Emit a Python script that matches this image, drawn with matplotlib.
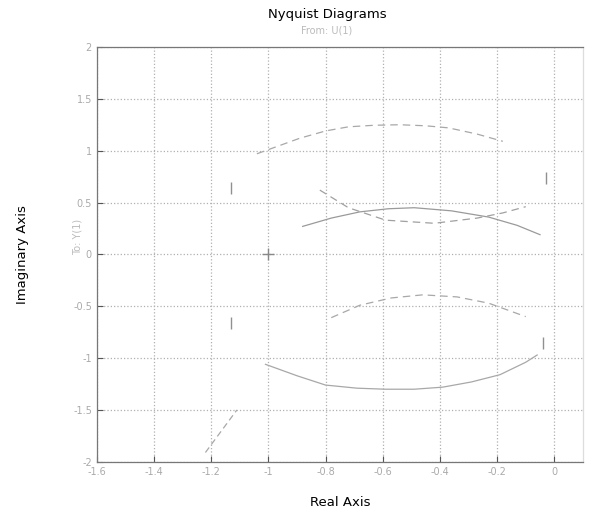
import matplotlib
matplotlib.use("Agg")
import matplotlib.pyplot as plt

# values
x_ticks = [-1.6, -1.4, -1.2, -1.0, -0.8, -0.6, -0.4, -0.2, 0.0]
x_tick_labels = ["-1.6", "-1.4", "-1.2", "-1", "-0.8", "-0.6", "-0.4", "-0.2", "0"]
y_ticks = [-2, -1.5, -1, -0.5, 0, 0.5, 1, 1.5, 2]
y_tick_labels = ["-2", "-1.5", "-1", "-0.5", "0", "0.5", "1", "1.5", "2"]

upper_arc_re = [-1.04, -0.95, -0.89, -0.80, -0.72, -0.63, -0.54, -0.45, -0.37, -0.27, -0.18]
upper_arc_im = [0.97, 1.06, 1.12, 1.19, 1.23, 1.245, 1.25, 1.24, 1.22, 1.16, 1.09]

mid_arc_re = [-0.88, -0.78, -0.68, -0.58, -0.49, -0.36, -0.23, -0.13, -0.05]
mid_arc_im = [0.27, 0.35, 0.41, 0.44, 0.45, 0.42, 0.36, 0.28, 0.19]

mid_dash_re = [-0.82, -0.72, -0.59, -0.42, -0.27, -0.18, -0.10]
mid_dash_im = [0.62, 0.45, 0.33, 0.30, 0.35, 0.40, 0.46]

low_top_re = [-0.78, -0.68, -0.57, -0.46, -0.34, -0.23, -0.10]
low_top_im = [-0.61, -0.49, -0.42, -0.39, -0.41, -0.47, -0.60]

low_bot_re = [-1.01, -0.90, -0.80, -0.69, -0.59, -0.49, -0.39, -0.29, -0.19, -0.10, -0.06]
low_bot_im = [-1.06, -1.17, -1.26, -1.29, -1.30, -1.30, -1.28, -1.23, -1.16, -1.04, -0.97]

tail_re = [-1.22, -1.11]
tail_im = [-1.91, -1.50]

arrow_re = [-1.13, -0.03, -0.04, -1.13]
arrow_im = [0.64, 0.74, -0.85, -0.66]

fig = plt.figure(figsize=(5.9, 5.16), dpi=100)
ax = fig.add_axes([0.164, 0.105, 0.824, 0.804])

ax.plot(upper_arc_re, upper_arc_im, color="#a8a8a8", lw=0.9, ls=(0, (6, 4)))
ax.plot(mid_arc_re, mid_arc_im, color="#9a9a9a", lw=0.9)
ax.plot(mid_dash_re, mid_dash_im, color="#a0a0a0", lw=0.9, ls=(0, (6, 4)))
ax.plot(low_top_re, low_top_im, color="#a8a8a8", lw=0.9, ls=(0, (6, 4)))
ax.plot(low_bot_re, low_bot_im, color="#a8a8a8", lw=0.9)
ax.plot(tail_re, tail_im, color="#a8a8a8", lw=0.9, ls=(0, (5, 3)))
ax.plot(arrow_re, arrow_im, ls="none", marker="|", ms=9, color="#909090")
ax.plot([-1.0], [0.0], marker="+", ms=9, color="#888888")

ax.set_xlim(-1.6, 0.1)
ax.set_ylim(-2, 2)
ax.set_xticks(x_ticks)
ax.set_xticklabels(x_tick_labels)
ax.set_yticks(y_ticks)
ax.set_yticklabels(y_tick_labels)
ax.tick_params(labelsize=7, colors="#555555", labelcolor="#aaaaaa", direction="in", length=4)
ax.grid(True, ls=":", color="#b0b0b0", lw=0.9)
for s in ax.spines.values():
    s.set_color("#777777")
    s.set_linewidth(0.9)
ax.spines["right"].set_color("#dddddd")

ax.set_xlabel("Real Axis", fontsize=9.5, labelpad=14)
ax.set_ylabel("Imaginary Axis", fontsize=9.5, labelpad=32)
fig.text(0.132, 0.54, "To: Y(1)", rotation=90, fontsize=7, color="#bbbbbb", ha="center", va="center")
fig.text(0.554, 0.972, "Nyquist Diagrams", fontsize=9.5, ha="center", va="center")
fig.text(0.554, 0.94, "From: U(1)", fontsize=7, color="#bbbbbb", ha="center", va="center")

fig.savefig("out.png", dpi=100, facecolor="white")
